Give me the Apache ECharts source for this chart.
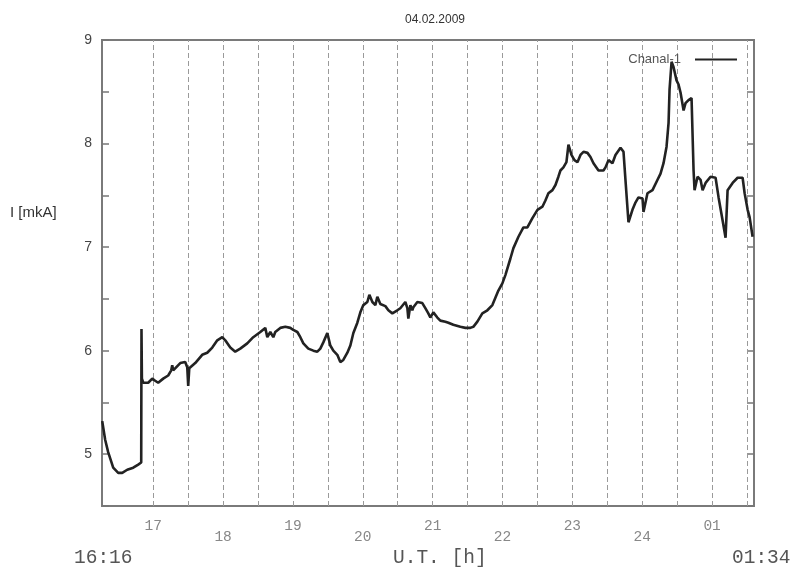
<!DOCTYPE html>
<html>
<head>
<meta charset="utf-8">
<title>04.02.2009</title>
<script src="https://cdn.jsdelivr.net/npm/echarts@6/dist/echarts.min.js"></script>
<style>
  html, body { margin: 0; padding: 0; background: #fff; }
  #chart { width: 795px; height: 567px; }
</style>
</head>
<body>
<div id="chart"></div>
<script>
// Measurement time, decimal hours U.T. (values past 24 belong to the next day)
const timeHours = [
  16.270, 16.312, 16.355, 16.427, 16.499, 16.556, 16.628, 16.714, 16.785, 16.828,
  16.832, 16.838, 16.857, 16.928, 16.986, 17.028, 17.071, 17.143, 17.214, 17.258,
  17.272, 17.286, 17.387, 17.458, 17.487, 17.501, 17.516, 17.601, 17.701, 17.773,
  17.845, 17.917, 17.988, 18.031, 18.103, 18.174, 18.246, 18.346, 18.432, 18.533,
  18.604, 18.633, 18.676, 18.719, 18.747, 18.819, 18.891, 18.962, 19.005, 19.063,
  19.106, 19.149, 19.220, 19.292, 19.349, 19.392, 19.435, 19.492, 19.535, 19.578,
  19.635, 19.678, 19.721, 19.779, 19.822, 19.865, 19.922, 19.965, 20.008, 20.065,
  20.094, 20.137, 20.180, 20.208, 20.251, 20.323, 20.366, 20.423, 20.494, 20.537,
  20.609, 20.638, 20.652, 20.681, 20.709, 20.724, 20.781, 20.852, 20.895, 20.938,
  20.967, 21.010, 21.067, 21.110, 21.182, 21.225, 21.296, 21.396, 21.468, 21.539,
  21.582, 21.640, 21.711, 21.783, 21.855, 21.898, 21.941, 21.998, 22.041, 22.113,
  22.156, 22.228, 22.299, 22.356, 22.428, 22.500, 22.571, 22.614, 22.657, 22.715,
  22.758, 22.800, 22.829, 22.872, 22.915, 22.944, 22.987, 23.030, 23.073, 23.116,
  23.159, 23.216, 23.259, 23.302, 23.374, 23.445, 23.474, 23.517, 23.574, 23.617,
  23.689, 23.732, 23.760, 23.803, 23.860, 23.903, 23.946, 24.004, 24.018, 24.075,
  24.147, 24.219, 24.262, 24.305, 24.348, 24.377, 24.391, 24.420, 24.448, 24.491,
  24.520, 24.549, 24.592, 24.620, 24.663, 24.706, 24.735, 24.749, 24.792, 24.835,
  24.864, 24.907, 24.978, 25.050, 25.093, 25.150, 25.193, 25.222, 25.294, 25.365,
  25.437, 25.466, 25.509, 25.537, 25.580
];

// Current, mkA
const currentMkA = [
  5.32, 5.14, 5.02, 4.87, 4.82, 4.82, 4.85, 4.87, 4.90, 4.92,
  6.21, 5.73, 5.69, 5.69, 5.73, 5.71, 5.69, 5.73, 5.76, 5.81,
  5.86, 5.81, 5.88, 5.89, 5.84, 5.66, 5.83, 5.88, 5.96, 5.98,
  6.03, 6.10, 6.13, 6.10, 6.03, 5.99, 6.02, 6.07, 6.13, 6.18,
  6.22, 6.13, 6.18, 6.13, 6.18, 6.22, 6.23, 6.22, 6.20, 6.18,
  6.13, 6.07, 6.02, 6.00, 5.99, 6.02, 6.08, 6.17, 6.05, 6.00,
  5.96, 5.89, 5.91, 5.98, 6.05, 6.17, 6.27, 6.37, 6.44, 6.47,
  6.54, 6.47, 6.44, 6.52, 6.45, 6.43, 6.39, 6.36, 6.39, 6.41,
  6.47, 6.41, 6.31, 6.44, 6.39, 6.42, 6.47, 6.46, 6.41, 6.36,
  6.32, 6.37, 6.32, 6.29, 6.28, 6.27, 6.25, 6.23, 6.22, 6.22,
  6.23, 6.28, 6.36, 6.39, 6.44, 6.51, 6.58, 6.65, 6.73, 6.89,
  6.99, 7.10, 7.19, 7.19, 7.28, 7.36, 7.39, 7.45, 7.52, 7.55,
  7.60, 7.68, 7.74, 7.77, 7.82, 7.99, 7.89, 7.84, 7.82, 7.89,
  7.92, 7.91, 7.87, 7.81, 7.74, 7.74, 7.77, 7.84, 7.81, 7.89,
  7.96, 7.92, 7.65, 7.24, 7.36, 7.43, 7.48, 7.47, 7.34, 7.52,
  7.55, 7.65, 7.71, 7.81, 7.97, 8.20, 8.52, 8.79, 8.74, 8.61,
  8.57, 8.49, 8.32, 8.39, 8.42, 8.44, 7.74, 7.55, 7.68, 7.65,
  7.55, 7.62, 7.68, 7.67, 7.48, 7.26, 7.09, 7.55, 7.62, 7.67,
  7.67, 7.52, 7.36, 7.29, 7.10
];

// Half-hour reference lines
const gridHours = [
  17, 17.5, 18, 18.5, 19, 19.5, 20, 20.5, 21, 21.5, 22, 22.5,
  23, 23.5, 24, 24.5, 25, 25.5
];

// Hour labels under the axis
const hourTicks = [17, 18, 19, 20, 21, 22, 23, 24, 25];
const hourLabels = ['17', '18', '19', '20', '21', '22', '23', '24', '01'];

const seriesName = 'Chanal-1';
const titleText = '04.02.2009';
const yAxisTitle = 'I [mkA]';
const xAxisTitle = 'U.T. [h]';
const startLabel = '16:16';
const endLabel = '01:34';

const chart = echarts.init(document.getElementById('chart'), null, { renderer: 'canvas' });

const sans = '"Liberation Sans", Arial, Helvetica, sans-serif';
const mono = '"Liberation Mono", "DejaVu Sans Mono", monospace';

const yAxisBase = {
  type: 'value',
  min: 4.5,
  max: 9,
  interval: 0.5,
  splitLine: { show: false },
  axisLine: { show: false },
  axisTick: { show: true, inside: true, length: 7, lineStyle: { color: '#777', width: 1.5 } }
};

chart.setOption({
  animation: false,
  backgroundColor: '#ffffff',
  title: {
    text: titleText,
    left: 430,
    top: 9,
    textAlign: 'center',
    textStyle: { fontFamily: sans, fontSize: 12, fontWeight: 'normal', color: '#333' }
  },
  legend: {
    data: [seriesName],
    right: 53,
    top: 48,
    align: 'right',
    itemWidth: 42,
    itemHeight: 2,
    icon: 'rect',
    itemGap: 10,
    textStyle: { fontFamily: sans, fontSize: 13, color: '#555', padding: [0, 9, 0, 0] }
  },
  grid: {
    left: 102,
    right: 41,
    top: 40,
    bottom: 61,
    show: true,
    borderColor: '#7a7a7a',
    borderWidth: 2,
    backgroundColor: 'transparent'
  },
  xAxis: {
    type: 'value',
    min: 16.2667,
    max: 25.6,
    axisLine: { show: false },
    axisTick: { show: false },
    splitLine: { show: false },
    axisLabel: {
      customValues: hourTicks,
      showMinLabel: true,
      showMaxLabel: true,
      margin: 15,
      fontFamily: mono,
      fontSize: 14.5,
      lineHeight: 11,
      color: '#888',
      formatter: function (value) {
        const i = hourTicks.indexOf(value);
        const text = i >= 0 ? hourLabels[i] : '';
        return i % 2 === 1 ? '\n' + text : text;
      }
    }
  },
  yAxis: [
    Object.assign({}, yAxisBase, {
      position: 'left',
      axisLabel: {
        margin: 10,
        fontFamily: sans,
        fontSize: 14,
        color: '#444',
        formatter: function (v) { return Number.isInteger(v) ? String(v) : ''; }
      }
    }),
    Object.assign({}, yAxisBase, {
      position: 'right',
      axisLabel: { show: false }
    })
  ],
  graphic: [
    {
      type: 'text', left: 10, top: 205,
      style: { text: yAxisTitle, font: '15px ' + sans, fill: '#333' }
    },
    {
      type: 'text', left: 74, top: 548,
      style: { text: startLabel, font: '19.5px ' + mono, fill: '#555' }
    },
    {
      type: 'text', left: 393, top: 548,
      style: { text: xAxisTitle, font: '19.5px ' + mono, fill: '#555' }
    },
    {
      type: 'text', left: 732, top: 548,
      style: { text: endLabel, font: '19.5px ' + mono, fill: '#555' }
    }
  ],
  series: [
    {
      name: seriesName,
      type: 'line',
      data: timeHours.map(function (t, i) { return [t, currentMkA[i]]; }),
      showSymbol: false,
      symbol: 'none',
      lineStyle: { color: '#222', width: 2.6 },
      itemStyle: { color: '#222' },
      z: 3,
      markLine: {
        silent: true,
        symbol: ['none', 'none'],
        label: { show: false },
        lineStyle: { color: '#9a9a9a', width: 1, type: [5, 3] },
        data: gridHours.map(function (h) { return { xAxis: h }; }),
        z: 1
      }
    }
  ]
});
</script>
</body>
</html>
